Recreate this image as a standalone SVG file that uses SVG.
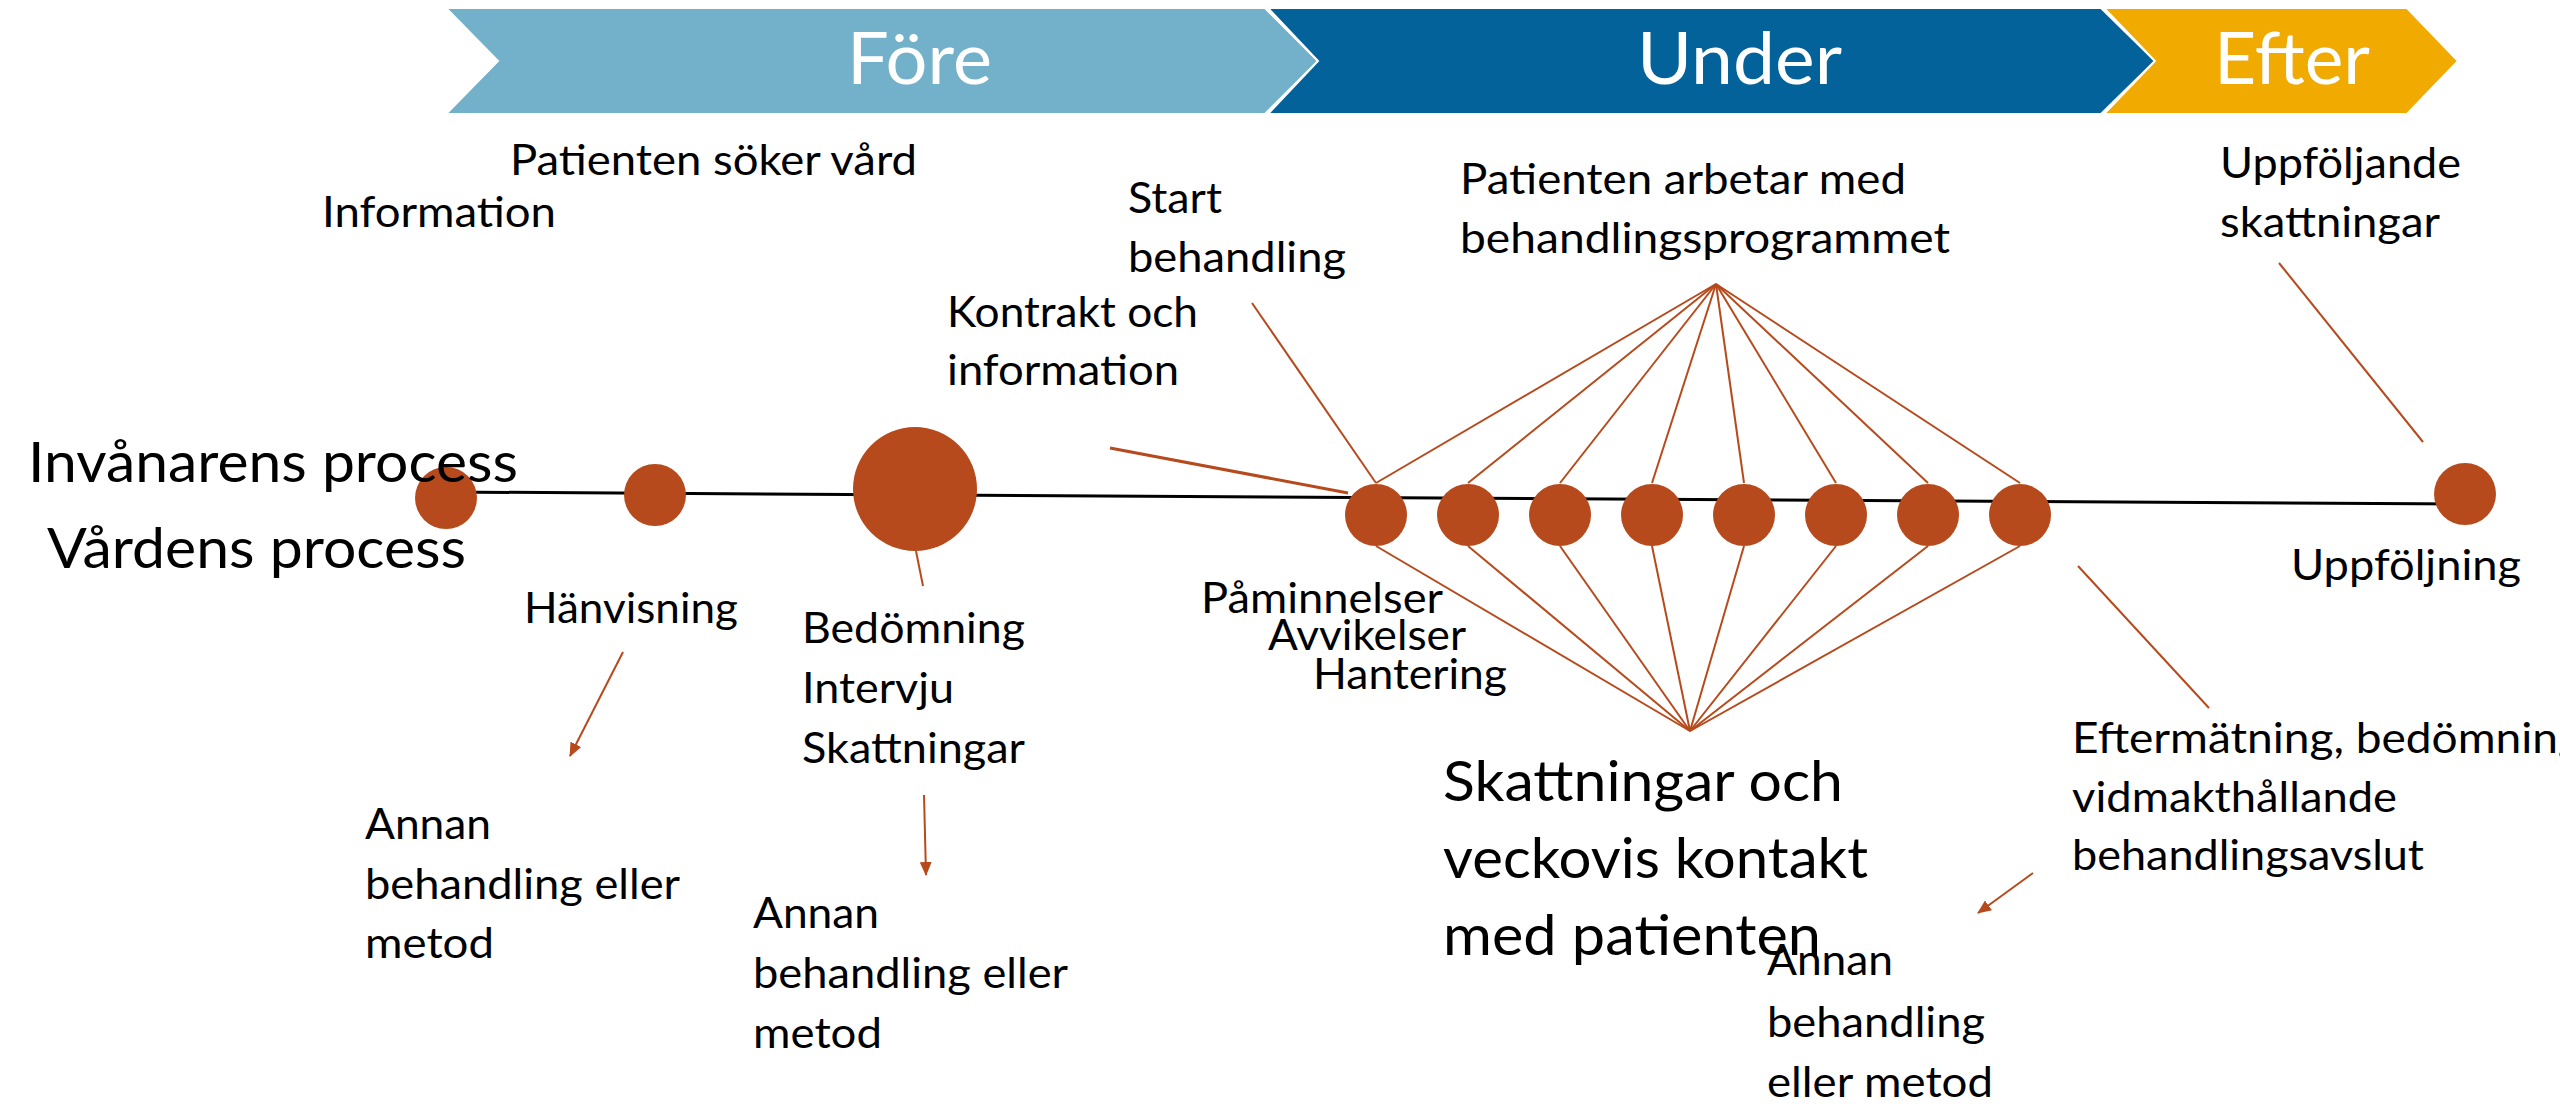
<svg xmlns="http://www.w3.org/2000/svg" width="2560" height="1104" viewBox="0 0 2560 1104">
<style>
.t{font-family:Lato,"Open Sans","Liberation Sans",sans-serif;font-size:42.5px;fill:#000}
.tl{font-family:Lato,"Open Sans","Liberation Sans",sans-serif;font-size:55.5px;fill:#000}
.tb{font-family:Lato,"Open Sans","Liberation Sans",sans-serif;font-size:71px;fill:#fff}
.dot{fill:#B64A1C}
.ln{stroke:#B64A1C;stroke-width:2;fill:none}
.axis{stroke:#000;stroke-width:3;fill:none}
.chev{stroke:#fff;stroke-width:2}
</style>
<defs>
<marker id="ah" viewBox="0 0 14 12" markerWidth="14" markerHeight="12" markerUnits="userSpaceOnUse" refX="13" refY="6" orient="auto">
<path d="M0,0 L14,6 L0,12 z" fill="#B64A1C"/>
</marker>
</defs>
<rect width="2560" height="1104" fill="#fff"/>

<g id="stage-fore">
<polygon class="chev" fill="#72B1C9" points="446,8 1265,8 1318,61 1265,114 446,114 498,61"/>
<text class="tb" x="847" y="84" textLength="145" lengthAdjust="spacingAndGlyphs">Före</text>
</g>
<g id="stage-under">
<polygon class="chev" fill="#03629A" points="1268,8 2101,8 2155,61 2101,114 1268,114 1318,61"/>
<text class="tb" x="1637" y="84" textLength="205" lengthAdjust="spacingAndGlyphs">Under</text>
</g>
<g id="stage-efter">
<polygon class="chev" fill="#F0AA00" points="2104,8 2407,8 2458,61 2407,114 2104,114 2155,61"/>
<text class="tb" x="2214" y="84" textLength="156" lengthAdjust="spacingAndGlyphs">Efter</text>
</g>

<g id="connectors">
<line class="axis" x1="446" y1="492" x2="2465" y2="504"/>
<line class="ln" x1="1716" y1="284" x2="1376" y2="483"/>
<line class="ln" x1="1716" y1="284" x2="1468" y2="483"/>
<line class="ln" x1="1716" y1="284" x2="1560" y2="483"/>
<line class="ln" x1="1716" y1="284" x2="1652" y2="483"/>
<line class="ln" x1="1716" y1="284" x2="1744" y2="483"/>
<line class="ln" x1="1716" y1="284" x2="1836" y2="483"/>
<line class="ln" x1="1716" y1="284" x2="1928" y2="483"/>
<line class="ln" x1="1716" y1="284" x2="2020" y2="483"/>
<line class="ln" x1="1376" y1="546" x2="1690" y2="731"/>
<line class="ln" x1="1468" y1="546" x2="1690" y2="731"/>
<line class="ln" x1="1560" y1="546" x2="1690" y2="731"/>
<line class="ln" x1="1652" y1="546" x2="1690" y2="731"/>
<line class="ln" x1="1744" y1="546" x2="1690" y2="731"/>
<line class="ln" x1="1836" y1="546" x2="1690" y2="731"/>
<line class="ln" x1="1928" y1="546" x2="1690" y2="731"/>
<line class="ln" x1="2020" y1="546" x2="1690" y2="731"/>
<line class="ln" x1="1252" y1="303" x2="1376" y2="483"/>
<line class="ln" style="stroke-width:3" x1="1110" y1="448" x2="1348" y2="493"/>
<line class="ln" x1="916" y1="551" x2="923" y2="586"/>
<line class="ln" x1="2279" y1="263" x2="2423" y2="442"/>
<line class="ln" x1="2078" y1="566" x2="2209" y2="708"/>
<line class="ln" x1="623" y1="652" x2="570" y2="756" marker-end="url(#ah)"/>
<line class="ln" x1="924" y1="795" x2="926" y2="875" marker-end="url(#ah)"/>
<line class="ln" x1="2033" y1="873" x2="1978" y2="913" marker-end="url(#ah)"/>
</g>

<g id="node-invanare"><circle class="dot" cx="446" cy="498" r="31"/></g>
<g id="node-hanvisning"><circle class="dot" cx="655" cy="495" r="31"/></g>
<g id="node-bedomning"><circle class="dot" cx="915" cy="489" r="62"/></g>
<g id="node-week-1"><circle class="dot" cx="1376" cy="515" r="31"/></g>
<g id="node-week-2"><circle class="dot" cx="1468" cy="515" r="31"/></g>
<g id="node-week-3"><circle class="dot" cx="1560" cy="515" r="31"/></g>
<g id="node-week-4"><circle class="dot" cx="1652" cy="515" r="31"/></g>
<g id="node-week-5"><circle class="dot" cx="1744" cy="515" r="31"/></g>
<g id="node-week-6"><circle class="dot" cx="1836" cy="515" r="31"/></g>
<g id="node-week-7"><circle class="dot" cx="1928" cy="515" r="31"/></g>
<g id="node-week-8"><circle class="dot" cx="2020" cy="515" r="31"/></g>
<g id="node-uppfoljning"><circle class="dot" cx="2465" cy="494" r="31"/></g>

<g id="label-process">
<text class="tl" x="28" y="482" textLength="490" lengthAdjust="spacingAndGlyphs">Invånarens process</text>
<text class="tl" x="47" y="568" textLength="419" lengthAdjust="spacingAndGlyphs">Vårdens process</text>
</g>
<g id="label-soker">
<text class="t" x="510" y="175" textLength="407" lengthAdjust="spacingAndGlyphs">Patienten söker vård</text>
</g>
<g id="label-information">
<text class="t" x="322" y="227" textLength="234" lengthAdjust="spacingAndGlyphs">Information</text>
</g>
<g id="label-start">
<text class="t" x="1128" y="213" textLength="94" lengthAdjust="spacingAndGlyphs">Start</text>
<text class="t" x="1128" y="272" textLength="218" lengthAdjust="spacingAndGlyphs">behandling</text>
</g>
<g id="label-kontrakt">
<text class="t" x="947" y="327" textLength="251" lengthAdjust="spacingAndGlyphs">Kontrakt och</text>
<text class="t" x="947" y="385" textLength="232" lengthAdjust="spacingAndGlyphs">information</text>
</g>
<g id="label-arbetar">
<text class="t" x="1460" y="194" textLength="446" lengthAdjust="spacingAndGlyphs">Patienten arbetar med</text>
<text class="t" x="1460" y="253" textLength="490" lengthAdjust="spacingAndGlyphs">behandlingsprogrammet</text>
</g>
<g id="label-uppfoljande">
<text class="t" x="2220" y="178" textLength="241" lengthAdjust="spacingAndGlyphs">Uppföljande</text>
<text class="t" x="2220" y="237" textLength="220" lengthAdjust="spacingAndGlyphs">skattningar</text>
</g>
<g id="label-hanvisning">
<text class="t" x="524" y="623" textLength="214" lengthAdjust="spacingAndGlyphs">Hänvisning</text>
</g>
<g id="label-bedomning">
<text class="t" x="802" y="643" textLength="223" lengthAdjust="spacingAndGlyphs">Bedömning</text>
<text class="t" x="802" y="703" textLength="152" lengthAdjust="spacingAndGlyphs">Intervju</text>
<text class="t" x="802" y="763" textLength="223" lengthAdjust="spacingAndGlyphs">Skattningar</text>
</g>
<g id="label-annan-1">
<text class="t" x="365" y="839" textLength="126" lengthAdjust="spacingAndGlyphs">Annan</text>
<text class="t" x="365" y="899" textLength="315" lengthAdjust="spacingAndGlyphs">behandling eller</text>
<text class="t" x="365" y="958" textLength="129" lengthAdjust="spacingAndGlyphs">metod</text>
</g>
<g id="label-annan-2">
<text class="t" x="753" y="928" textLength="126" lengthAdjust="spacingAndGlyphs">Annan</text>
<text class="t" x="753" y="988" textLength="315" lengthAdjust="spacingAndGlyphs">behandling eller</text>
<text class="t" x="753" y="1048" textLength="129" lengthAdjust="spacingAndGlyphs">metod</text>
</g>
<g id="label-paminnelser">
<text class="t" x="1201" y="613" textLength="242" lengthAdjust="spacingAndGlyphs">Påminnelser</text>
<text class="t" x="1268" y="650" textLength="198" lengthAdjust="spacingAndGlyphs">Avvikelser</text>
<text class="t" x="1313" y="689" textLength="194" lengthAdjust="spacingAndGlyphs">Hantering</text>
</g>
<g id="label-skattningar">
<text class="tl" x="1443" y="801" textLength="400" lengthAdjust="spacingAndGlyphs">Skattningar och</text>
<text class="tl" x="1443" y="878" textLength="425" lengthAdjust="spacingAndGlyphs">veckovis kontakt</text>
<text class="tl" x="1443" y="955" textLength="378" lengthAdjust="spacingAndGlyphs">med patienten</text>
</g>
<g id="label-eftermatning">
<text class="t" x="2072" y="753" textLength="510" lengthAdjust="spacingAndGlyphs">Eftermätning, bedömning</text>
<text class="t" x="2072" y="812" textLength="325" lengthAdjust="spacingAndGlyphs">vidmakthållande</text>
<text class="t" x="2072" y="870" textLength="352" lengthAdjust="spacingAndGlyphs">behandlingsavslut</text>
</g>
<g id="label-annan-3">
<text class="t" x="1767" y="975" textLength="126" lengthAdjust="spacingAndGlyphs">Annan</text>
<text class="t" x="1767" y="1037" textLength="218" lengthAdjust="spacingAndGlyphs">behandling</text>
<text class="t" x="1767" y="1097" textLength="226" lengthAdjust="spacingAndGlyphs">eller metod</text>
</g>
<g id="label-uppfoljning">
<text class="t" x="2291" y="580" textLength="230" lengthAdjust="spacingAndGlyphs">Uppföljning</text>
</g>
</svg>
